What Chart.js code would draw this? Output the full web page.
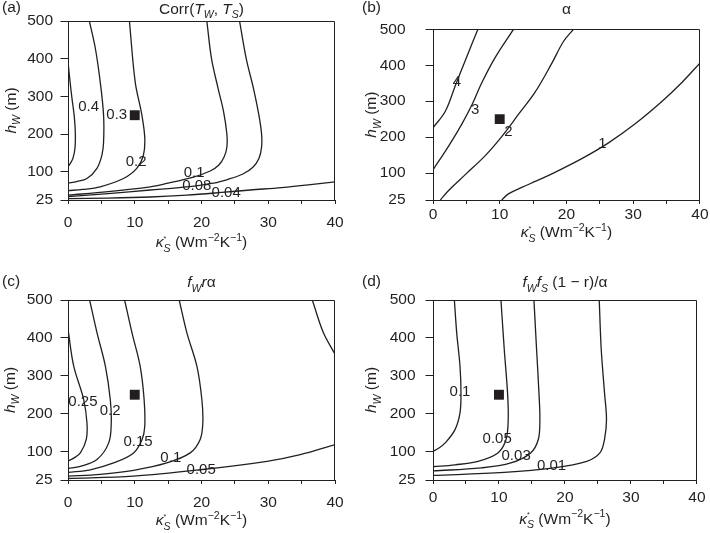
<!DOCTYPE html>
<html>
<head>
<meta charset="utf-8">
<script src="https://cdn.jsdelivr.net/npm/chart.js@4.4.0/dist/chart.umd.min.js"></script>
<style>
  body { margin: 0; background: #fff; }
  #wrap { position: relative; width: 710px; height: 533px; }
  .panel { position: absolute; }
</style>
</head>
<body>
<div id="wrap">
  <div class="panel" style="left:0;top:0;width:355px;height:266px"><canvas id="cA"></canvas></div>
  <div class="panel" style="left:355px;top:0;width:355px;height:266px"><canvas id="cB"></canvas></div>
  <div class="panel" style="left:0;top:266px;width:355px;height:267px"><canvas id="cC"></canvas></div>
  <div class="panel" style="left:355px;top:266px;width:355px;height:267px"><canvas id="cD"></canvas></div>
</div>
<script>
// axes
const xTickValues = [0, 5, 10, 15, 20, 25, 30, 35, 40];
const yTickValues = [25, 100, 200, 300, 400, 500];
const markerPoint = [[10, 250]];

// (a) Corr(Tw, Ts)
const corrLevels = ['0.4', '0.3', '0.2', '0.1', '0.08', '0.04'];
const corr040 = [[0,391],[0.3,340],[0.6,294],[0.95,245],[1.1,200],[1.05,163],[0.75,136],[0.35,122],[0,113]];
const corr030 = [[3.2,500],[4.1,427],[4.83,338],[5.33,250],[5.33,179],[5.08,144],[4.34,109],[2.84,82],[1.3,74],[0,70]];
const corr020 = [[9.2,500],[10.07,338],[11.07,250],[11.5,190],[11.3,144],[10.3,109],[8.3,82],[4.83,60],[2.2,53],[0,50]];
const corr010 = [[20.8,500],[21.5,400],[22.5,320],[23.3,260],[23.8,200],[23.8,165],[23.4,140],[22.6,118],[21.3,102],[18.8,86],[14.8,69],[12.3,60],[6,47],[0,38]];
const corr008 = [[25.7,500],[26.7,400],[27.8,320],[28.6,250],[29.0,200],[29.0,165],[28.6,135],[27.7,112],[26.2,94],[24.0,80],[21.8,70],[17.3,59],[12.3,51.5],[6,42],[0,33.7]];
const corr004 = [[0,28.5],[6,30],[12.3,33],[17.8,38],[23,45],[27.3,51.5],[32,58],[36,65],[40,73]];
const corrLabelAt = [[3.1,272],[7.3,250],[10.2,125],[18.9,98],[19.3,63],[23.7,43]];

// (b) alpha
const alphaLevels = ['4', '3', '2', '1'];
const alpha4 = [[0,226],[1.85,272],[3.34,343],[4.84,413.5],[6.73,500]];
const alpha3 = [[0,109],[2.34,175],[4.34,237],[5.84,290],[7.33,352],[9.33,422],[12.07,500]];
const alpha2 = [[1.1,25],[2.34,51.5],[4.84,95.6],[7.83,148.6],[10.3,201.6],[12.8,263],[15.3,325],[17.8,405],[19.55,466],[21.05,500]];
const alpha1 = [[10.3,25],[11.3,42],[13.3,60],[15.5,78],[18.5,104],[22.3,140],[26.3,184],[30.3,237],[34.3,299],[37.3,352],[40,406]];
const alphaLabelAt = [[3.6,353],[6.33,277],[11.3,215],[25.4,181]];

// (c) fw r alpha
const fraLevels = ['0.25', '0.2', '0.15', '0.1', '0.05'];
const fra025 = [[0,423],[0.85,326],[2.34,238],[2.84,176],[2.74,132],[1.85,96.5],[0.8,82],[0,75]];
const fra020 = [[3.24,500],[4.34,414],[5.59,326],[6.33,238],[6.48,176],[6.1,123],[4.34,79],[1.85,61],[0,55]];
const fra015 = [[8.48,500],[9.58,414],[10.8,326],[11.4,238],[11.5,167],[11.1,132],[9.83,96.5],[6.83,70],[3.34,52],[0,45]];
const fra010 = [[16.66,500],[17.8,414],[19.3,326],[20.05,238],[20.2,176],[19.8,132],[18.3,96.5],[14.8,70],[9.83,50.6],[4.84,40],[0,35]];
const fra005 = [[0,29],[9.83,35],[19.8,52],[29.8,74.4],[34.8,92],[40,118.6]];
const fraEdge = [[36.6,500],[38.25,414],[40,357]];
const fraLabelAt = [[2.24,230],[6.3,207],[10.5,125],[15.4,83],[19.95,51]];

// (d) fw fs (1-r)/alpha
const ffLevels = ['0.1', '0.05', '0.03', '0.01'];
const ff10 = [[3.24,500],[3.59,414],[4.09,326],[4.24,255],[4.09,202],[3.34,158],[1.85,123],[0.8,108],[0,101]];
const ff05 = [[10.3,500],[10.8,370],[11.3,255],[11.4,185],[11.07,132],[9.83,96.5],[6.83,74.4],[3.34,65],[0,60]];
const ff03 = [[15.3,500],[15.7,370],[16.06,255],[16.2,185],[15.96,132],[14.8,96.5],[11.8,70],[7.33,57],[0,49]];
const ff01 = [[25.2,500],[25.5,370],[26.0,255],[26.3,185],[26.0,132],[25.3,96.5],[23.3,74.4],[18.3,57],[10.8,45],[0,37]];
const ffLabelAt = [[4.09,257],[9.73,134],[12.6,90],[17.96,61]];

const ink = '#231f20';
const fam = '"Liberation Sans", Arial, Helvetica, sans-serif';
const FS = 15.5;

// rich text: [text, flags]  i=italic d=subscript u=superscript z=no advance
function segFont(f, size) {
  let sz = (f.includes('d') || f.includes('u')) ? size * 0.68 : size;
  if (f.includes('z')) sz = size * 0.45;
  return (f.includes('i') ? 'italic ' : '') + sz + 'px ' + fam;
}
function drawRich(ctx, segs, x, y, size, align) {
  let w = 0;
  segs.forEach(([t, f = '']) => {
    ctx.font = segFont(f, size);
    if (!f.includes('z')) w += ctx.measureText(t).width;
  });
  let cx = align === 'center' ? x - w / 2 : x;
  ctx.textAlign = 'left';
  ctx.textBaseline = 'alphabetic';
  segs.forEach(([t, f = '']) => {
    ctx.font = segFont(f, size);
    const dy = f.includes('d') ? size * 0.32 : (f.includes('u') ? -size * 0.42 : 0);
    ctx.fillText(t, cx, y + dy);
    if (!f.includes('z')) cx += ctx.measureText(t).width;
  });
}

const xTitle = [['κ', 'i'], ['*', 'uz'], ['S', 'id'], [' (Wm'], ['−2', 'u'], ['K'], ['−1', 'u'], [')']];
const yTitle = [['h', 'i'], ['W', 'id'], [' (m)']];

const pts = arr => arr.map(p => ({ x: p[0], y: p[1] }));

function makePanel(id, p) {
  const datasets = p.lines.map(l => ({
    data: pts(l), showLine: true, tension: 0.35, fill: false,
    borderColor: ink, borderWidth: 1.3, pointRadius: 0
  }));
  datasets.push({
    data: pts(markerPoint), showLine: false, pointStyle: 'rect',
    pointRadius: 7, pointBackgroundColor: ink, pointBorderWidth: 0
  });

  const decor = {
    id: 'decor',
    afterDatasetsDraw(chart) {
      const ctx = chart.ctx, a = chart.chartArea;
      const xs = chart.scales.x, ys = chart.scales.y;
      ctx.save();
      // top and right edges of the frame
      ctx.strokeStyle = ink; ctx.lineWidth = 1;
      ctx.beginPath();
      ctx.moveTo(a.left, Math.round(a.top) + 0.5);
      ctx.lineTo(Math.round(a.right) - 0.5, Math.round(a.top) + 0.5);
      ctx.lineTo(Math.round(a.right) - 0.5, a.bottom);
      ctx.stroke();
      ctx.fillStyle = ink;
      ctx.font = '15px ' + fam;
      ctx.textAlign = 'center'; ctx.textBaseline = 'middle';
      p.labels.forEach((t, i) => {
        const at = p.labelAt[i];
        ctx.fillText(t, xs.getPixelForValue(at[0]), ys.getPixelForValue(at[1]));
      });
      ctx.restore();
    },
    afterDraw(chart) {
      const ctx = chart.ctx, a = chart.chartArea;
      const cxm = (a.left + a.right) / 2, cym = (a.top + a.bottom) / 2;
      ctx.save();
      ctx.fillStyle = ink;
      ctx.font = FS + 'px ' + fam;
      ctx.textAlign = 'left'; ctx.textBaseline = 'middle';
      ctx.fillText(p.letter, p.letterX, p.titleY);
      drawRich(ctx, p.title, cxm, p.titleY + 5.5, FS, 'center');
      drawRich(ctx, xTitle, cxm, a.bottom + p.xTitleOff + 5.5, FS, 'center');
      ctx.translate(p.yTitleX, cym);
      ctx.rotate(-Math.PI / 2);
      drawRich(ctx, yTitle, 0, 5.5, FS, 'center');
      ctx.restore();
    }
  };

  new Chart(document.getElementById(id), {
    type: 'scatter',
    data: { datasets },
    options: {
      responsive: true, maintainAspectRatio: false, animation: false,
      layout: { padding: { top: p.top, right: p.right, left: 0, bottom: 0 } },
      plugins: { legend: { display: false }, tooltip: { enabled: false } },
      scales: {
        x: {
          type: 'linear', min: 0, max: 40,
          afterBuildTicks: s => { s.ticks = xTickValues.map(v => ({ value: v })); },
          afterFit: s => { s.height = p.xH; },
          ticks: {
            autoSkip: false, maxRotation: 0, padding: p.xPad, color: ink,
            font: { family: fam, size: FS },
            callback: v => (v % 10 === 0 ? String(v) : '')
          },
          grid: { drawOnChartArea: false, tickLength: 4, color: ink },
          border: { color: ink, width: 1 }
        },
        y: {
          type: 'linear', min: 25, max: 500,
          afterBuildTicks: s => { s.ticks = yTickValues.map(v => ({ value: v })); },
          afterFit: s => { s.width = p.yW; },
          ticks: {
            autoSkip: false, padding: p.yPad, color: ink,
            font: { family: fam, size: FS }
          },
          grid: { drawOnChartArea: false, tickLength: 7.5, color: ink },
          border: { color: ink, width: 1 }
        }
      }
    },
    plugins: [decor]
  });
}

makePanel('cA', {
  lines: [corr040, corr030, corr020, corr010, corr008, corr004],
  labels: corrLevels, labelAt: corrLabelAt,
  letter: '(a)', letterX: 2, titleY: 8,
  title: [['Corr('], ['T', 'i'], ['W', 'id'], [', '], ['T', 'i'], ['S', 'id'], [')']],
  top: 21, right: 20, yW: 68, xH: 66, xPad: 9.5, yPad: 7.5, xTitleOff: 41.7, yTitleX: 10
});
makePanel('cB', {
  lines: [alpha4, alpha3, alpha2, alpha1],
  labels: alphaLevels, labelAt: alphaLabelAt,
  letter: '(b)', letterX: 7, titleY: 8,
  title: [['α']],
  top: 21, right: 10, yW: 78, xH: 66, xPad: 1.5, yPad: 20, xTitleOff: 31.7, yTitleX: 15.5
});
makePanel('cC', {
  lines: [fra025, fra020, fra015, fra010, fra005, fraEdge],
  labels: fraLevels, labelAt: fraLabelAt,
  letter: '(c)', letterX: 2, titleY: 15.5,
  title: [['f', 'i'], ['W', 'id'], ['r', 'i'], ['α']],
  top: 34, right: 20, yW: 68, xH: 53, xPad: 9.5, yPad: 8, xTitleOff: 39.6, yTitleX: 9
});
makePanel('cD', {
  lines: [ff10, ff05, ff03, ff01],
  labels: ffLevels, labelAt: ffLabelAt,
  letter: '(d)', letterX: 7, titleY: 15.5,
  title: [['f', 'i'], ['W', 'id'], ['f', 'i'], ['S', 'id'], [' (1 − r)/α']],
  top: 34, right: 10, yW: 78, xH: 53, xPad: 4.5, yPad: 10, xTitleOff: 38, yTitleX: 15.5
});
</script>
</body>
</html>
